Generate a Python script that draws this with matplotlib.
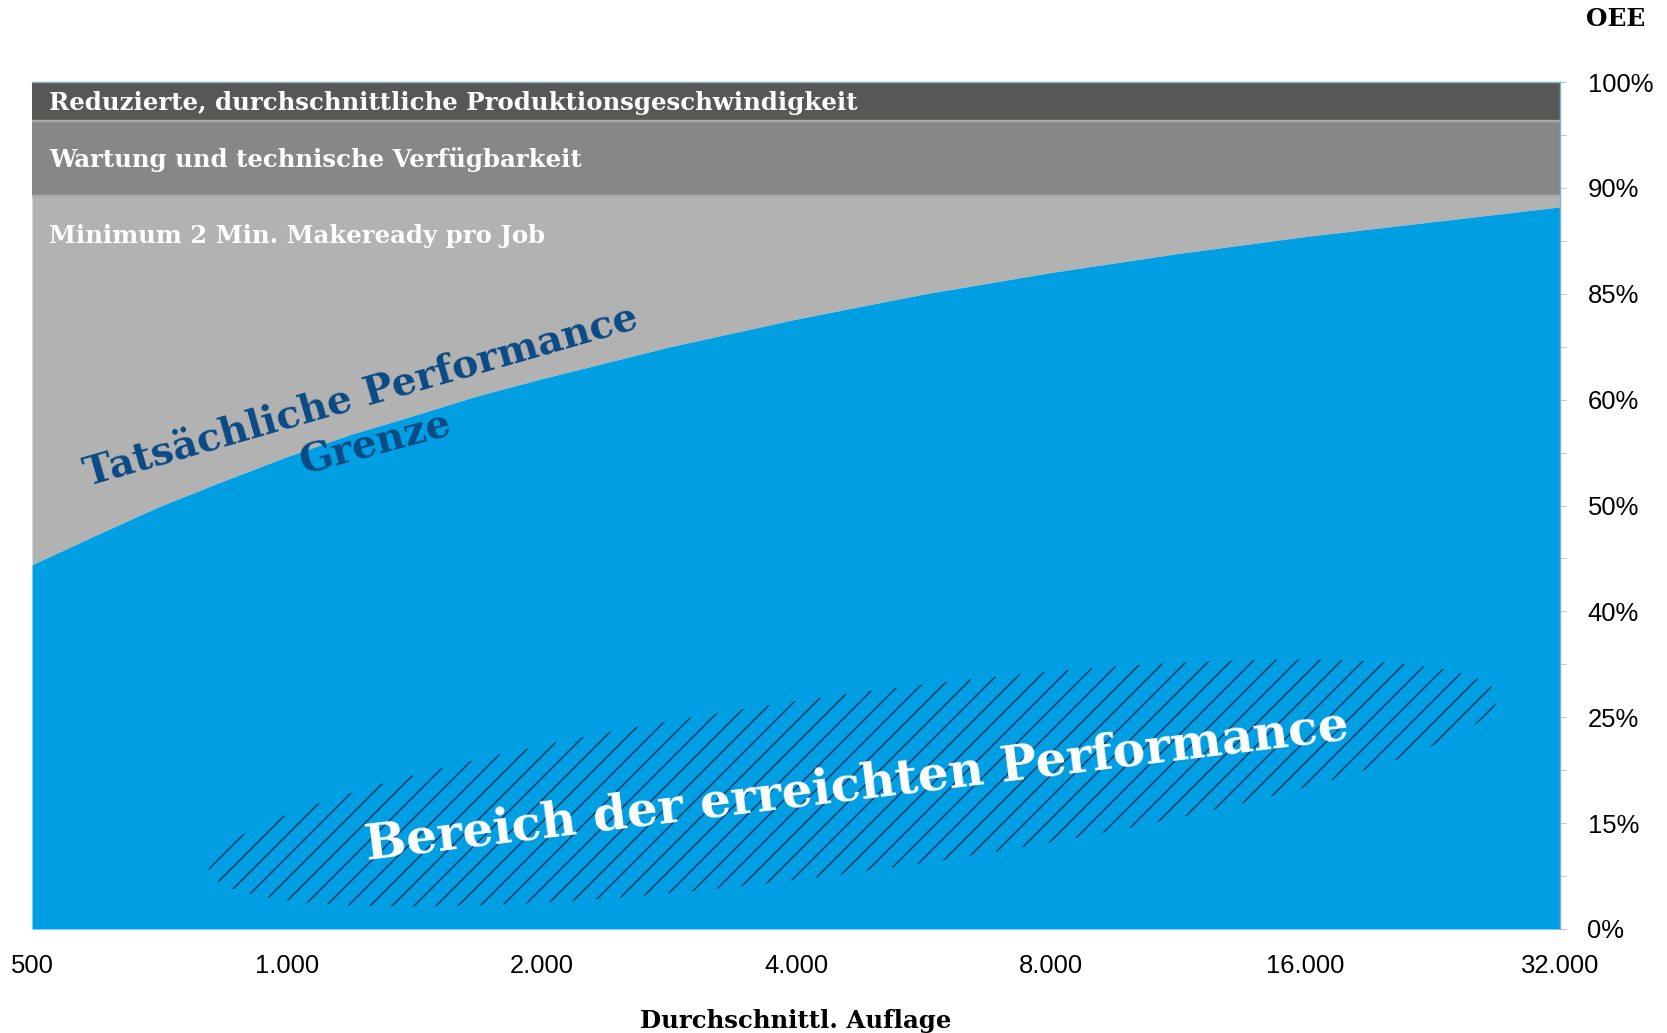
import numpy as np
import matplotlib
matplotlib.use('Agg')
import matplotlib.pyplot as plt
from matplotlib.patches import Ellipse
from matplotlib.ticker import NullLocator

# Durchschnittliche Auflage (x) und OEE-Grenze der tatsächlichen Performance (%)
auflage = [500, 595, 707, 841, 1000, 1189, 1414, 1682, 2000, 2828, 4000, 5657,
           8000, 11314, 16000, 22627, 32000]
grenze_oee = [44.4, 47.2, 49.9, 52.3, 54.6, 56.7, 58.5, 60.9, 64.9, 72.4, 79.0, 84.9,
              86.0, 86.9, 87.7, 88.4, 89.1]

# Verlustbänder oberhalb der Grenze (untere Kante, obere Kante in % OEE)
band_makeready = 89.6
band_wartung = 96.3
band_oben = 100

band_texte = ['Minimum 2 Min. Makeready pro Job',
              'Wartung und technische Verfügbarkeit',
              'Reduzierte, durchschnittliche Produktionsgeschwindigkeit']

# Achsenbeschriftungen
x_ticks = [500, 1000, 2000, 4000, 8000, 16000, 32000]
oee_ticks = [0, 15, 25, 40, 50, 60, 85, 90, 100]

BLAU = '#009fe3'
NAVY = '#0b4a85'
SCHRAFFUR = '#163d6a'
HELLGRAU = '#b2b2b2'
MITTELGRAU = '#878787'
DUNKELGRAU = '#575756'

SERIF = 'DejaVu Serif'
SANS = 'Liberation Sans'

plt.rcParams['hatch.linewidth'] = 0.85

DPI = 132
fig = plt.figure(figsize=(1667 / DPI, 1033 / DPI), dpi=DPI)
ax = fig.add_axes([32 / 1667, 104 / 1033, 1528 / 1667, 847 / 1033])

# Y-Achse: gleiche Abstände zwischen den (ungleichen) OEE-Ticks
pos = np.arange(len(oee_ticks))


def fwd(v):
    return np.interp(v, oee_ticks, pos)


def inv(p):
    return np.interp(p, pos, oee_ticks)


ax.set_yscale('function', functions=(fwd, inv))
ax.set_xscale('log', base=2)

# Flächen
ax.fill_between(auflage, 0, grenze_oee, color=BLAU, lw=0, zorder=2)
ax.fill_between(auflage, grenze_oee, band_makeready, color=HELLGRAU, lw=0, zorder=1)
ax.axhspan(band_makeready, band_wartung, color=MITTELGRAU, lw=0, zorder=1)
ax.axhspan(band_wartung, band_oben, color=DUNKELGRAU, lw=0, zorder=1)
for y in (band_makeready, band_wartung):
    ax.axhline(y, color='#a8a8a8', lw=1.3, zorder=3)

ax.set_xlim(auflage[0], auflage[-1])
ax.set_ylim(0, 100)

# Achsen
ax.set_xticks(x_ticks)
ax.set_xticklabels([f'{v:,}'.replace(',', '.') for v in x_ticks],
                   fontfamily=SANS, fontsize=14)
ax.xaxis.set_minor_locator(NullLocator())
ax.tick_params(axis='x', length=0, pad=13.5)

ax.yaxis.tick_right()
ax.set_yticks(oee_ticks)
ax.set_yticklabels([f'{v}%' for v in oee_ticks], fontfamily=SANS, fontsize=14)
ax.set_yticks(inv(pos[:-1] + 0.5), minor=True)
ax.tick_params(axis='y', which='both', length=3, width=0.6, color='#c8c8c8', pad=12)

for s in ('left', 'bottom'):
    ax.spines[s].set_visible(False)
for s in ('top', 'right'):
    ax.spines[s].set_color('#7fb0cc')
    ax.spines[s].set_linewidth(0.8)
    ax.spines[s].set_zorder(4)

# Texte in den Bändern
for text, y in zip(band_texte, (0.8182, 0.9085, 0.9752)):
    ax.text(0.011, y, text, transform=ax.transAxes, color='white',
            fontfamily=SERIF, fontweight='bold', fontsize=13.3, va='center', zorder=5)

# Beschriftung der Grenze
ax.text(0.2175, 0.6165, 'Tatsächliche Performance', transform=ax.transAxes,
        rotation=16, rotation_mode='anchor', ha='center', va='baseline',
        color=NAVY, fontfamily=SERIF, fontweight='bold', fontsize=21.5, zorder=5)
ax.text(0.2265, 0.5605, 'Grenze', transform=ax.transAxes,
        rotation=15, rotation_mode='anchor', ha='center', va='baseline',
        color=NAVY, fontfamily=SERIF, fontweight='bold', fontsize=21.5, zorder=5)

# Schraffierter Bereich der erreichten Performance
ell = Ellipse((853 / DPI, (1033 - 783) / DPI), 1300 / DPI, 178 / DPI, angle=7.65,
              transform=fig.dpi_scale_trans, facecolor='none', edgecolor=SCHRAFFUR,
              lw=0, hatch='//', zorder=4)
ax.add_artist(ell)
ax.text(0.5412, 0.153, 'Bereich der erreichten Performance', transform=ax.transAxes,
        rotation=7, rotation_mode='anchor', ha='center', va='baseline',
        color='white', fontfamily=SERIF, fontweight='bold', fontsize=26.6, zorder=6)

fig.text(796 / 1667, 1 - 1021 / 1033, 'Durchschnittl. Auflage', ha='center', va='center',
         fontfamily=SERIF, fontweight='bold', fontsize=13.3)
fig.text(1616 / 1667, 1 - 19 / 1033, 'OEE', ha='center', va='center',
         fontfamily=SERIF, fontweight='bold', fontsize=13.5)

fig.savefig('out.png', dpi=DPI)
